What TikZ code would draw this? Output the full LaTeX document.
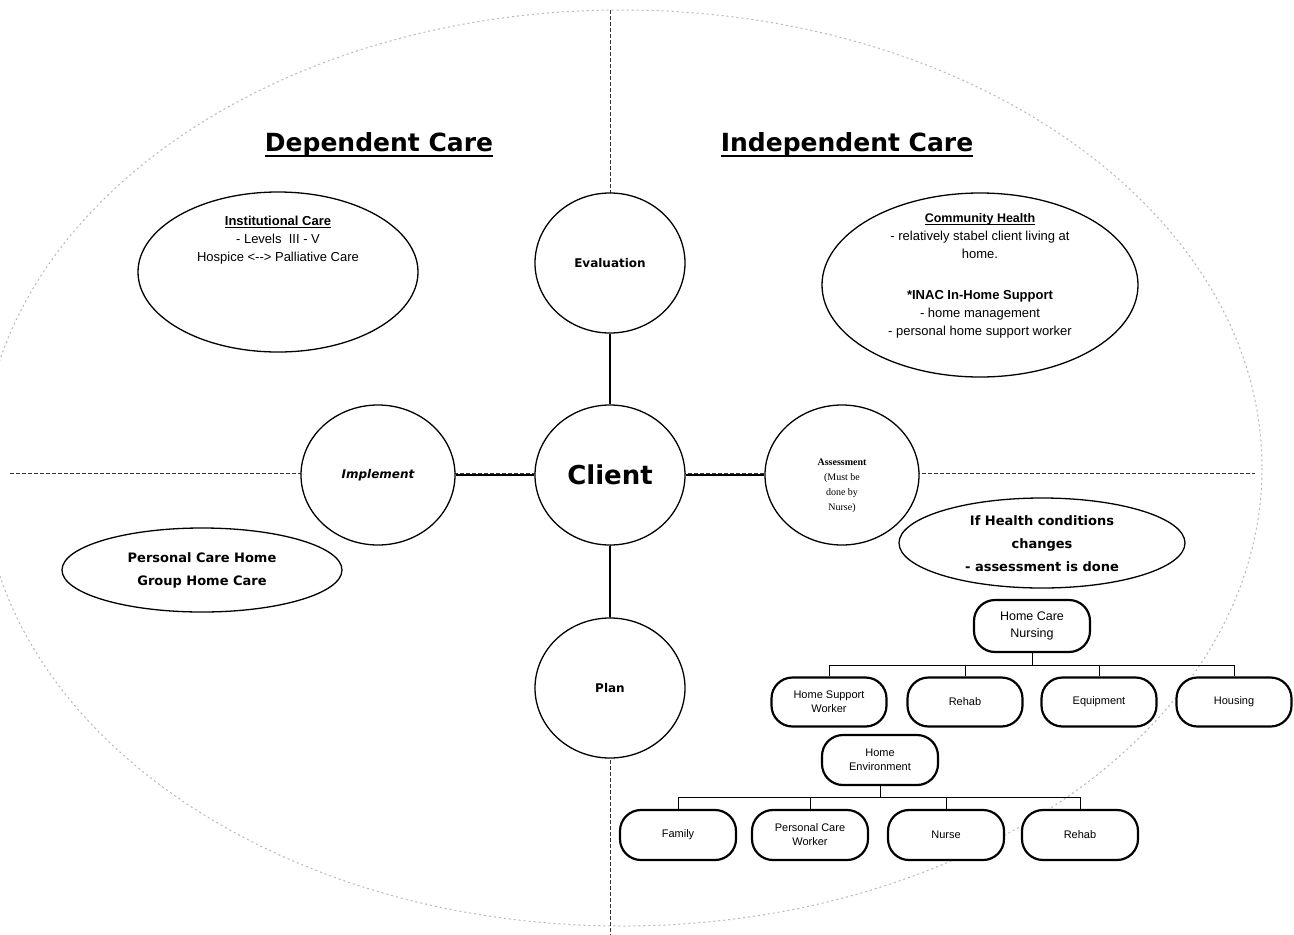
\documentclass[tikz,border=0pt]{standalone}
\usepackage{fontspec}
\setmainfont{DejaVu Sans}
\newfontfamily\arialf{Liberation Sans}
\newfontfamily\timesf{Liberation Serif}
\usetikzlibrary{shapes.geometric}
\newcommand\myul[1]{\setbox0=\hbox{#1}\rlap{\rule[-0.2em]{\wd0}{0.08em}}\box0}
\begin{document}
\begin{tikzpicture}[x=1pt,y=-1pt,
  circ/.style={draw, ellipse, fill=white, line width=1.3pt, inner sep=0pt, align=center},
  conn/.style={line width=2.5pt},
  pill/.style={draw, rectangle, rounded corners=21pt, line width=2.2pt, fill=white,
     minimum width=115pt, minimum height=49pt, align=center, inner sep=1pt,
     font=\arialf\fontsize{11}{14}\selectfont},
  bus/.style={line width=0.8pt},
  axis/.style={dash pattern=on 4pt off 2pt, line width=0.9pt, black!80},
  outer/.style={dash pattern=on 2pt off 3pt, line width=1pt, black!28},
  title/.style={font=\fontsize{25}{30}\selectfont\bfseries},
  btxt/.style={font=\fontsize{13}{23}\selectfont\bfseries, align=center},
  rtxt/.style={font=\arialf\fontsize{13}{18}\selectfont, align=center}]

\useasboundingbox (0,0) rectangle (1294,935);
\fill[white] (0,0) rectangle (1294,935);

% outer ellipse and axes
\draw[outer] (622,468) ellipse [x radius=640, y radius=458];
\coordinate (hl) at (10,473);
\coordinate (hr) at (1255,473);
\coordinate (vt) at (610,10);
\coordinate (vb) at (610,935);
\draw[axis] (hl) -- (hr);
\draw[axis] (vt) -- (vb);

% titles
\node[title] (dep) at (379,145) {\myul{Dependent Care}};
\node[title] (indep) at (847,145) {\myul{Independent Care}};

% central cycle
\node[circ, minimum width=150pt, minimum height=140pt] (client) at (610,475) {\fontsize{26}{30}\selectfont\bfseries Client};
\node[circ, minimum width=150pt, minimum height=140pt] (eval) at (610,263) {\fontsize{12}{14}\selectfont\bfseries Evaluation};
\node[circ, minimum width=154pt, minimum height=140pt] (impl) at (378,475) {\fontsize{12}{14}\selectfont\bfseries\itshape Implement};
\node[circ, minimum width=154pt, minimum height=140pt] (assess) at (842,475) {};
\node[align=center, font=\timesf\fontsize{10}{15}\selectfont] (assesst) at (842,486) {\textbf{Assessment}\\(Must be\\done by\\Nurse)};
\node[circ, minimum width=150pt, minimum height=140pt] (plan) at (610,688) {\fontsize{12}{14}\selectfont\bfseries Plan};

\draw[conn] (eval) -- (client);
\draw[conn] (impl) -- (client);
\draw[conn] (client) -- (assess);
\draw[conn] (client) -- (plan);

% care ellipses
\node[circ, minimum width=280pt, minimum height=160pt] (inst) at (278,272) {};
\node[rtxt] (instt) at (278,240) {{\fontsize{13}{18}\selectfont\bfseries\myul{Institutional Care}}\\- Levels~ III - V\\Hospice <--> Palliative Care};

\node[circ, minimum width=316pt, minimum height=184pt] (comm) at (980,285) {};
\node[rtxt] (commt1) at (980,236) {{\fontsize{12.5}{18}\selectfont\bfseries\myul{Community Health}}\\- relatively stabel client living at\\home.};
\node[rtxt] (commt2) at (980,314) {{\fontsize{13}{18}\selectfont\bfseries *INAC In-Home Support}\\- home management\\- personal home support worker};

\node[circ, minimum width=280pt, minimum height=84pt] (pch) at (202,570) {};
\node[btxt] (pcht) at (202,570) {Personal Care Home\\Group Home Care};

\node[circ, minimum width=286pt, minimum height=90pt] (ifh) at (1042,543) {};
\node[btxt] (ifht) at (1042,544) {If Health conditions\\changes\\- assessment is done};

% org chart
\node[pill, minimum width=116pt, minimum height=52pt, font=\arialf\fontsize{12.5}{17}\selectfont] (hcn) at (1032,626) {Home Care\\Nursing};
\node[pill] (hsw) at (829,702) {Home Support\\Worker};
\node[pill] (reh1) at (965,702) {Rehab};
\node[pill] (equ) at (1099,702) {Equipment};
\node[pill] (hou) at (1234,702) {Housing};
\coordinate (bus1) at (1032,665);
\draw[bus] (hcn.south) -- (bus1);
\draw[bus] (hsw.north) -- (hsw.north |- bus1) -- (hou.north |- bus1) -- (hou.north);
\draw[bus] (reh1.north) -- (reh1.north |- bus1);
\draw[bus] (equ.north) -- (equ.north |- bus1);

\node[pill, minimum width=116pt, minimum height=50pt] (henv) at (880,760) {Home\\Environment};
\node[pill, minimum width=116pt, minimum height=50pt] (fam) at (678,835) {Family};
\node[pill, minimum width=116pt, minimum height=50pt] (pcw) at (810,835) {Personal Care\\Worker};
\node[pill, minimum width=116pt, minimum height=50pt] (nur) at (946,835) {Nurse};
\node[pill, minimum width=116pt, minimum height=50pt] (reh2) at (1080,835) {Rehab};
\coordinate (bus2) at (880,797);
\draw[bus] (henv.south) -- (bus2);
\draw[bus] (fam.north) -- (fam.north |- bus2) -- (reh2.north |- bus2) -- (reh2.north);
\draw[bus] (pcw.north) -- (pcw.north |- bus2);
\draw[bus] (nur.north) -- (nur.north |- bus2);
\end{tikzpicture}
\end{document}
